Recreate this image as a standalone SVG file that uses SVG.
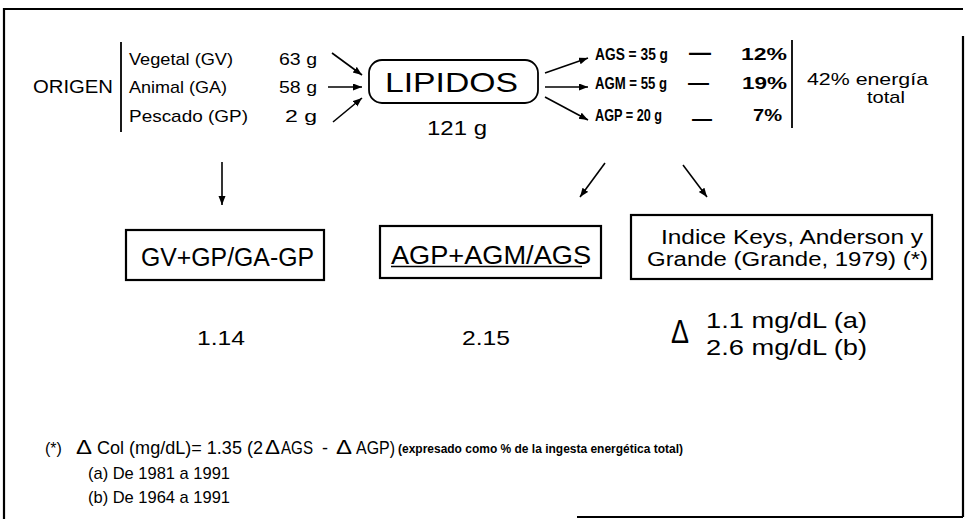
<svg xmlns="http://www.w3.org/2000/svg" width="965" height="519" viewBox="0 0 965 519">
<style>
text{font-family:"Liberation Sans",Arial,sans-serif;fill:#000}
.f{stroke:#000;stroke-width:2.2;fill:none}
.b{stroke:#000;stroke-width:1.8;fill:none}
.c{stroke:#000;stroke-width:1.6;fill:none;marker-end:url(#ah)}
.bold{font-weight:700}
.ag{font-size:17px;font-weight:700}
</style>
<defs>
<marker id="ah" markerUnits="userSpaceOnUse" markerWidth="11" markerHeight="8" refX="9" refY="3.5" orient="auto">
<path d="M0,0 L9,3.5 L0,7 Z" fill="#000"/>
</marker>
</defs>
<rect width="965" height="519" fill="#fff"/>
<g id="frame">
<line class="f" x1="3" y1="9" x2="963" y2="9"/>
<line class="f" x1="4" y1="8" x2="4" y2="519"/>
<line class="f" x1="963" y1="36" x2="963" y2="517"/>
<line class="f" x1="577" y1="517" x2="963" y2="517"/>
</g>
<g id="origen">
<text x="33" y="93" font-size="19" textLength="80" lengthAdjust="spacingAndGlyphs">ORIGEN</text>
<line class="b" x1="121" y1="42" x2="121" y2="132"/>
<text x="129" y="65" font-size="17" textLength="104" lengthAdjust="spacingAndGlyphs">Vegetal (GV)</text>
<text x="129" y="93" font-size="17" textLength="98" lengthAdjust="spacingAndGlyphs">Animal (GA)</text>
<text x="129" y="122" font-size="17" textLength="119" lengthAdjust="spacingAndGlyphs">Pescado (GP)</text>
<text x="279" y="65" font-size="17" textLength="38" lengthAdjust="spacingAndGlyphs">63 g</text>
<text x="279" y="93" font-size="17" textLength="38" lengthAdjust="spacingAndGlyphs">58 g</text>
<text x="285" y="122" font-size="17" textLength="32" lengthAdjust="spacingAndGlyphs">2  g</text>
</g>
<g id="lipidos">
<rect class="b" x="369" y="60" width="169" height="43" rx="13"/>
<text x="385" y="92" font-size="28" textLength="133" lengthAdjust="spacingAndGlyphs">LIPIDOS</text>
<text x="427" y="135" font-size="20" textLength="60" lengthAdjust="spacingAndGlyphs">121 g</text>
</g>
<g id="acidos">
<text class="ag" x="595" y="60" textLength="73" lengthAdjust="spacingAndGlyphs">AGS = 35 g</text>
<text class="ag" x="689" y="60" style="font-size:22px">—</text>
<text class="ag" x="741" y="60" textLength="46" lengthAdjust="spacingAndGlyphs">12%</text>
<text class="ag" x="595" y="89" textLength="72" lengthAdjust="spacingAndGlyphs">AGM = 55 g</text>
<text class="ag" x="688" y="89" style="font-size:21px">—</text>
<text class="ag" x="742" y="89" textLength="45" lengthAdjust="spacingAndGlyphs">19%</text>
<text class="ag" x="595" y="121" textLength="67" lengthAdjust="spacingAndGlyphs">AGP = 20 g</text>
<text class="ag" x="692" y="125" style="font-size:20px">—</text>
<text class="ag" x="753" y="121" textLength="29" lengthAdjust="spacingAndGlyphs">7%</text>
<line class="b" x1="792" y1="40" x2="792" y2="128"/>
</g>
<g id="energia">
<text x="807" y="85" font-size="17" textLength="121" lengthAdjust="spacingAndGlyphs">42% energía</text>
<text x="867" y="103" font-size="17" textLength="38" lengthAdjust="spacingAndGlyphs">total</text>
</g>
<g id="indice1">
<rect class="f" x="126" y="230" width="198" height="50"/>
<text x="141" y="266" font-size="25" textLength="173" lengthAdjust="spacingAndGlyphs">GV+GP/GA-GP</text>
</g>
<g id="indice2">
<rect class="f" x="380" y="226" width="221" height="52"/>
<text x="391" y="264" font-size="26" textLength="200" lengthAdjust="spacingAndGlyphs">AGP+AGM/AGS</text>
<line x1="391" y1="266.5" x2="582" y2="266.5" stroke="#000" stroke-width="1.6"/>
</g>
<g id="indice3">
<rect class="f" x="631" y="215" width="301" height="64"/>
<text x="661" y="244" font-size="20" textLength="262" lengthAdjust="spacingAndGlyphs">Indice Keys, Anderson y</text>
<text x="647" y="266" font-size="20" textLength="281" lengthAdjust="spacingAndGlyphs">Grande (Grande, 1979) (*)</text>
</g>
<g id="valor1">
<text x="197" y="345" font-size="21" textLength="48" lengthAdjust="spacingAndGlyphs">1.14</text>
</g>
<g id="valor2">
<text x="462" y="345" font-size="21" textLength="48" lengthAdjust="spacingAndGlyphs">2.15</text>
</g>
<g id="valor3">
<text x="671" y="343" font-size="34" textLength="18" lengthAdjust="spacingAndGlyphs">Δ</text>
<text x="706" y="328" font-size="22" textLength="161" lengthAdjust="spacingAndGlyphs">1.1 mg/dL (a)</text>
<text x="706" y="355" font-size="22" textLength="161" lengthAdjust="spacingAndGlyphs">2.6 mg/dL (b)</text>
</g>
<g id="nota">
<text x="45" y="454" font-size="16">(*)</text>
<text x="76" y="454" font-size="20" textLength="16" lengthAdjust="spacingAndGlyphs">Δ</text>
<text x="97" y="454" font-size="18" textLength="166" lengthAdjust="spacingAndGlyphs">Col (mg/dL)= 1.35 (2</text>
<text x="265" y="454" font-size="20" textLength="15" lengthAdjust="spacingAndGlyphs">Δ</text>
<text x="281" y="454" font-size="18" textLength="32" lengthAdjust="spacingAndGlyphs">AGS</text>
<text x="322" y="454" font-size="18">-</text>
<text x="336" y="454" font-size="20" textLength="16" lengthAdjust="spacingAndGlyphs">Δ</text>
<text x="356" y="454" font-size="18" textLength="39" lengthAdjust="spacingAndGlyphs">AGP)</text>
<text x="398" y="453" font-size="12" class="bold" textLength="285" lengthAdjust="spacingAndGlyphs">(expresado como % de la ingesta energética total)</text>
<text x="88" y="479" font-size="17" textLength="142" lengthAdjust="spacingAndGlyphs">(a) De 1981 a 1991</text>
<text x="88" y="503" font-size="17" textLength="142" lengthAdjust="spacingAndGlyphs">(b) De 1964 a 1991</text>
</g>
<g id="conectores">
<line class="c" x1="332" y1="53" x2="362" y2="75"/>
<line class="c" x1="328" y1="87" x2="362" y2="87"/>
<line class="c" x1="333" y1="122" x2="362" y2="98"/>
<line class="c" x1="545" y1="73" x2="588" y2="58"/>
<line class="c" x1="545" y1="87" x2="588" y2="87"/>
<line class="c" x1="545" y1="97" x2="588" y2="120"/>
<line class="c" x1="222" y1="162" x2="222" y2="205"/>
<line class="c" x1="605" y1="163" x2="580" y2="197"/>
<line class="c" x1="683" y1="165" x2="707" y2="197"/>
</g>
</svg>
